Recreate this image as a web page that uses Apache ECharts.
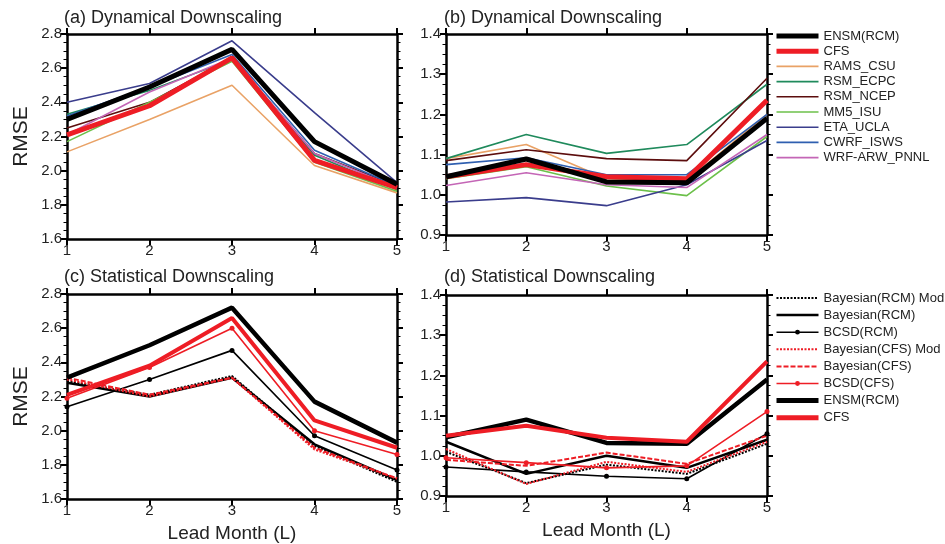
<!DOCTYPE html>
<html>
<head>
<meta charset="utf-8">
<title>RMSE vs lead month</title>
<script src="https://cdn.jsdelivr.net/npm/echarts@6/dist/echarts.min.js"></script>
<style>
  html, body { margin: 0; padding: 0; background: #fff; }
  #chart { width: 945px; height: 544px; }
</style>
</head>
<body>
<div id="chart"></div>
<script>
// lead months (x axis)
const leads = ['1', '2', '3', '4', '5'];

// (a) dynamical downscaling, left panel
const dynA_ENSM = [2.30, 2.49, 2.71, 2.17, 1.92];
const dynA_CFS  = [2.21, 2.38, 2.66, 2.06, 1.90];
const dynA_RAMS = [2.11, 2.30, 2.50, 2.03, 1.87];
const dynA_ECPC = [2.33, 2.47, 2.65, 2.09, 1.89];
const dynA_NCEP = [2.25, 2.40, 2.66, 2.10, 1.91];
const dynA_MM5  = [2.17, 2.40, 2.64, 2.05, 1.88];
const dynA_ETA  = [2.40, 2.51, 2.76, 2.34, 1.93];
const dynA_CWRF = [2.32, 2.49, 2.68, 2.12, 1.91];
const dynA_WRF  = [2.21, 2.46, 2.66, 2.10, 1.90];

// (b) dynamical downscaling, right panel
const dynB_ENSM = [1.045, 1.089, 1.032, 1.030, 1.190];
const dynB_CFS  = [1.045, 1.075, 1.045, 1.040, 1.235];
const dynB_RAMS = [1.090, 1.125, 1.040, 1.035, 1.200];
const dynB_ECPC = [1.090, 1.150, 1.103, 1.125, 1.275];
const dynB_NCEP = [1.085, 1.112, 1.090, 1.085, 1.290];
const dynB_MM5  = [1.040, 1.070, 1.022, 0.998, 1.145];
const dynB_ETA  = [0.982, 0.993, 0.973, 1.025, 1.135];
const dynB_CWRF = [1.075, 1.092, 1.050, 1.050, 1.200];
const dynB_WRF  = [1.023, 1.055, 1.025, 1.018, 1.150];

// (c) statistical downscaling, left panel
const statC_BayRCMMod = [2.29, 2.21, 2.32, 1.91, 1.70];
const statC_BayRCM    = [2.28, 2.20, 2.31, 1.92, 1.71];
const statC_BCSDRCM   = [2.14, 2.30, 2.47, 1.97, 1.77];
const statC_BayCFSMod = [2.30, 2.20, 2.31, 1.89, 1.72];
const statC_BayCFS    = [2.31, 2.21, 2.31, 1.90, 1.72];
const statC_BCSDCFS   = [2.19, 2.37, 2.60, 2.00, 1.86];
const statC_ENSM      = [2.31, 2.50, 2.72, 2.17, 1.93];
const statC_CFS       = [2.21, 2.38, 2.66, 2.06, 1.90];

// (d) statistical downscaling, right panel
const statD_BayRCMMod = [1.010, 0.932, 0.978, 0.955, 1.030];
const statD_BayRCM    = [1.035, 0.955, 1.000, 0.970, 1.040];
const statD_BCSDRCM   = [0.972, 0.960, 0.949, 0.943, 1.055];
const statD_BayCFSMod = [1.017, 0.930, 0.985, 0.960, 1.035];
const statD_BayCFS    = [0.990, 0.975, 1.008, 0.980, 1.050];
const statD_BCSDCFS   = [0.995, 0.983, 0.970, 0.975, 1.110];
const statD_ENSM      = [1.046, 1.090, 1.032, 1.030, 1.190];
const statD_CFS       = [1.050, 1.075, 1.045, 1.035, 1.235];

const FONT = 'Liberation Sans, Arial, Helvetica, sans-serif';
const RED = '#ee1d25';

const chart = echarts.init(document.getElementById('chart'), null, { renderer: 'canvas' });

// panel frames: left, right, top, bottom in pixels
const panels = [
  { left: 67,  right: 548, top: 34,  bottom: 305, min: 1.6, max: 2.8, step: 0.2, ylabel: true,  xname: false },
  { left: 446, right: 178, top: 34,  bottom: 309, min: 0.9, max: 1.4, step: 0.1, ylabel: false, xname: false },
  { left: 67,  right: 548, top: 294, bottom: 45,  min: 1.6, max: 2.8, step: 0.2, ylabel: true,  xname: true },
  { left: 446, right: 178, top: 295, bottom: 48,  min: 0.9, max: 1.4, step: 0.1, ylabel: false, xname: true }
];

const axisLine = { lineStyle: { color: '#000', width: 2.5 } };
const labelStyle = { color: '#222', fontSize: 15, fontFamily: FONT };

// fixed frames, no auto-shrinking to fit labels
const grids = panels.map(p => ({
  left: p.left, right: p.right, top: p.top, bottom: p.bottom, outerBoundsMode: 'none'
}));

const xAxes = [];
const yAxes = [];
panels.forEach((p, i) => {
  xAxes.push({
    gridIndex: i, type: 'category', data: leads, boundaryGap: false, position: 'bottom',
    axisLine, axisTick: { length: 6, lineStyle: { width: 2 } },
    axisLabel: Object.assign({ margin: 4 }, labelStyle),
    splitLine: { show: false },
    name: p.xname ? 'Lead Month (L)' : '', nameLocation: 'middle', nameGap: 25,
    nameTextStyle: { color: '#222', fontSize: 19, fontFamily: FONT }
  });
  xAxes.push({
    gridIndex: i, type: 'category', data: leads, boundaryGap: false, position: 'top',
    axisLine, axisTick: { length: 6, lineStyle: { width: 2 } },
    axisLabel: { show: false }, splitLine: { show: false }
  });
  const yBase = {
    gridIndex: i, type: 'value', min: p.min, max: p.max, interval: p.step,
    axisLine: { show: true, lineStyle: { color: '#000', width: 2.5 } },
    axisTick: { show: true, length: 6, lineStyle: { width: 2 } },
    minorTick: { show: true, splitNumber: 4, length: 3.5, lineStyle: { color: '#000', width: 1 } },
    splitLine: { show: false }
  };
  yAxes.push(Object.assign({}, yBase, {
    position: 'left',
    axisLabel: Object.assign({ margin: 5, formatter: v => v.toFixed(1) }, labelStyle),
    name: p.ylabel ? 'RMSE' : '', nameLocation: 'middle', nameGap: 35,
    nameTextStyle: { color: '#222', fontSize: 21, fontFamily: FONT }
  }));
  yAxes.push(Object.assign({}, yBase, { position: 'right', axisLabel: { show: false } }));
});

function line(name, data, grid, color, width) {
  return {
    name, type: 'line', data,
    xAxisIndex: grid * 2, yAxisIndex: grid * 2,
    symbol: 'none', smooth: false, silent: true,
    lineStyle: { color, width },
    itemStyle: { color }
  };
}

function styled(color, width, type) {
  return { lineStyle: { color, width, type } };
}
function dots(color, width) {
  return { symbol: 'circle', symbolSize: 5, showSymbol: true, lineStyle: { color, width } };
}

const dynNames = ['ENSM(RCM)', 'CFS', 'RAMS_CSU', 'RSM_ECPC', 'RSM_NCEP', 'MM5_ISU', 'ETA_UCLA', 'CWRF_ISWS', 'WRF-ARW_PNNL'];
const dynColors = ['#000000', RED, '#e9a266', '#1f8a5c', '#5c0d0d', '#6cc04a', '#3a3d8c', '#2f5fb0', '#c466b6'];
const dynWidths = [5, 5, 1.6, 1.6, 1.6, 1.6, 1.6, 1.6, 1.6];
const dynA = [dynA_ENSM, dynA_CFS, dynA_RAMS, dynA_ECPC, dynA_NCEP, dynA_MM5, dynA_ETA, dynA_CWRF, dynA_WRF];
const dynB = [dynB_ENSM, dynB_CFS, dynB_RAMS, dynB_ECPC, dynB_NCEP, dynB_MM5, dynB_ETA, dynB_CWRF, dynB_WRF];

const statNames = ['Bayesian(RCM) Mod', 'Bayesian(RCM)', 'BCSD(RCM)', 'Bayesian(CFS) Mod', 'Bayesian(CFS)', 'BCSD(CFS)', 'ENSM(RCM)', 'CFS'];
const statStyles = [
  styled('#000', 2, [2, 1.5]),
  styled('#000', 2.5, 'solid'),
  dots('#000', 1.6),
  styled(RED, 2, [2, 1.5]),
  styled(RED, 2, [5, 2]),
  dots(RED, 1.6),
  styled('#000', 4.5, 'solid'),
  styled(RED, 4, 'solid')
];
const statColors = ['#000', '#000', '#000', RED, RED, RED, '#000', RED];
const statC = [statC_BayRCMMod, statC_BayRCM, statC_BCSDRCM, statC_BayCFSMod, statC_BayCFS, statC_BCSDCFS, statC_ENSM, statC_CFS];
const statD = [statD_BayRCMMod, statD_BayRCM, statD_BCSDRCM, statD_BayCFSMod, statD_BayCFS, statD_BCSDCFS, statD_ENSM, statD_CFS];

const series = [];
// thin model lines first, ensemble and CFS drawn on top
const dynOrder = [2, 3, 4, 5, 6, 7, 8, 1, 0];
[dynA, dynB].forEach((set, g) => {
  dynOrder.forEach(k => series.push(line(dynNames[k], set[k], g, dynColors[k], dynWidths[k])));
});
[statC, statD].forEach((set, j) => {
  set.forEach((vals, k) => {
    const s = line(statNames[k], vals, j + 2, statColors[k], 2);
    const st = statStyles[k];
    Object.assign(s, st, { lineStyle: Object.assign({}, st.lineStyle) });
    series.push(s);
  });
});

// legend entries: hide the marker dot except for the BCSD lines
const withDot = ['BCSD(RCM)', 'BCSD(CFS)'];
const legendItem = n => withDot.includes(n) ? { name: n } : { name: n, itemStyle: { opacity: 0 } };

const panelTitles = [
  { text: '(a) Dynamical Downscaling', left: 64, top: 9 },
  { text: '(b) Dynamical Downscaling', left: 444, top: 9 },
  { text: '(c) Statistical Downscaling', left: 64, top: 268 },
  { text: '(d) Statistical Downscaling', left: 444, top: 268 }
];

const legendBase = {
  orient: 'vertical', left: 774, itemWidth: 42, itemHeight: 6, padding: 0,
  selectedMode: false,
  lineStyle: { width: 'inherit' },
  textStyle: { color: '#222', fontSize: 13, fontFamily: FONT, lineHeight: 14 }
};

chart.setOption({
  backgroundColor: '#fff',
  animation: false,
  title: panelTitles.map(t => ({
    text: t.text, left: t.left, top: t.top, padding: 0,
    textStyle: { color: '#222', fontSize: 18, fontWeight: 'normal', fontFamily: FONT }
  })),
  legend: [
    Object.assign({}, legendBase, { data: dynNames.map(legendItem), top: 29, itemGap: 1.2 }),
    Object.assign({}, legendBase, { data: statNames.map(legendItem), top: 291, itemGap: 3.1 })
  ],
  grid: grids,
  xAxis: xAxes,
  yAxis: yAxes,
  series
});
</script>
</body>
</html>
